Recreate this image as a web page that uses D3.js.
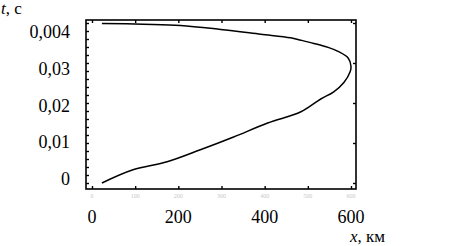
<!DOCTYPE html>
<html>
<head>
<meta charset="utf-8">
<script src="https://cdn.jsdelivr.net/npm/d3@7"></script>
<style>
  body { margin: 0; background: #fff; }
  text { font-family: "Liberation Serif", "DejaVu Serif", serif; }
</style>
</head>
<body>
<div id="chart"></div>
<script>
// curve x (km) and t (s), going up the lower branch then back along the upper one
var curveX = [23, 95, 174, 251, 328, 407, 484, 530, 560, 584, 598, 600, 593, 570, 547, 514, 484, 460, 391, 298, 205, 119, 23];
var curveT = [0, 0.0033, 0.0053, 0.0083, 0.0115, 0.015, 0.0178, 0.021, 0.0228, 0.0252, 0.0278, 0.0292,
              0.0313, 0.0329, 0.0339, 0.0349, 0.0357, 0.0363, 0.0372, 0.0384, 0.0394, 0.0397, 0.0399];

// big axis labels (as written in the original, incl. "0,004")
var xTickValues = [0, 200, 400, 600];
var yTickValues = [0, 0.01, 0.02, 0.03, 0.04];
var yTickLabels = ["0", "0,01", "0,02", "0,03", "0,004"];

// small grey labels of the inner plot
var innerXTicks = [0, 100, 200, 300, 400, 500, 600];

var W = 449, H = 246;
var box = {left: 86, right: 356, top: 20, bottom: 189};

var svg = d3.select("#chart").append("svg")
    .attr("width", W)
    .attr("height", H);

// scales
var x = d3.scaleLinear().domain([0, 600]).range([92, 351]);
var y = d3.scaleLinear().domain([0, 0.04]).range([183, 23]);
// the big labels were placed by hand, slightly off the inner ticks
var yLab = d3.scaleLinear().domain([0, 0.04]).range([179, 32]);

// frame
svg.append("rect")
    .attr("x", box.left).attr("y", box.top)
    .attr("width", box.right - box.left)
    .attr("height", box.bottom - box.top)
    .attr("fill", "none")
    .attr("stroke", "#000")
    .attr("stroke-width", 1.6);

// bottom ticks (inward) + grey labels
var gb = svg.append("g").attr("transform", "translate(0," + box.bottom + ")");
gb.call(d3.axisTop(x).tickValues(innerXTicks).tickSize(3).tickFormat(""));
gb.select(".domain").remove();
gb.selectAll(".tick line").attr("stroke-width", 1.4);
gb.selectAll(".inner-lab")
  .data(innerXTicks)
  .enter().append("text")
    .attr("x", function(d) { return x(d); })
    .attr("y", 9)
    .attr("text-anchor", "middle")
    .attr("font-size", 6)
    .attr("fill", "#c8c8c8")
    .text(function(d) { return d; });

// top ticks (inward)
var gt = svg.append("g").attr("transform", "translate(0," + box.top + ")");
gt.call(d3.axisBottom(x).tickValues(innerXTicks).tickSize(3).tickFormat(""));
gt.select(".domain").remove();
gt.selectAll(".tick line").attr("stroke-width", 1.4);

// left minor ticks (inward)
var gl = svg.append("g").attr("transform", "translate(" + box.left + ",0)");
gl.call(d3.axisRight(y).tickValues(d3.range(0, 0.0401, 0.002)).tickSize(3).tickFormat(""));
gl.select(".domain").remove();
gl.selectAll(".tick line").attr("stroke-width", 1.4);

// right ticks (inward)
var gr = svg.append("g").attr("transform", "translate(" + box.right + ",0)");
gr.call(d3.axisLeft(y).tickValues(yTickValues).tickSize(3).tickFormat(""));
gr.select(".domain").remove();
gr.selectAll(".tick line").attr("stroke-width", 1.4);

// big labels
svg.selectAll(".xlab")
  .data(xTickValues)
  .enter().append("text")
    .attr("x", function(d) { return x(d); })
    .attr("y", 223)
    .attr("text-anchor", "middle")
    .attr("font-size", 18)
    .text(function(d) { return d; });

svg.selectAll(".ylab")
  .data(yTickValues)
  .enter().append("text")
    .attr("x", 70)
    .attr("y", function(d) { return yLab(d) + 6; })
    .attr("text-anchor", "end")
    .attr("font-size", 18)
    .text(function(d, i) { return yTickLabels[i]; });

// axis names
var tName = svg.append("text").attr("x", 1).attr("y", 14).attr("font-size", 17);
tName.append("tspan").attr("font-style", "italic").text("t");
tName.append("tspan").text(", c");

var xName = svg.append("text").attr("x", 350).attr("y", 242).attr("font-size", 17);
xName.append("tspan").attr("font-style", "italic").text("x");
xName.append("tspan").text(", км");

// curve
var pts = curveX.map(function(d, i) { return [d, curveT[i]]; });
svg.append("path")
    .datum(pts)
    .attr("d", d3.line()
      .x(function(d) { return x(d[0]); })
      .y(function(d) { return y(d[1]); })
      .curve(d3.curveCatmullRom))
    .attr("fill", "none")
    .attr("stroke", "#000")
    .attr("stroke-width", 1.5);
</script>
</body>
</html>
